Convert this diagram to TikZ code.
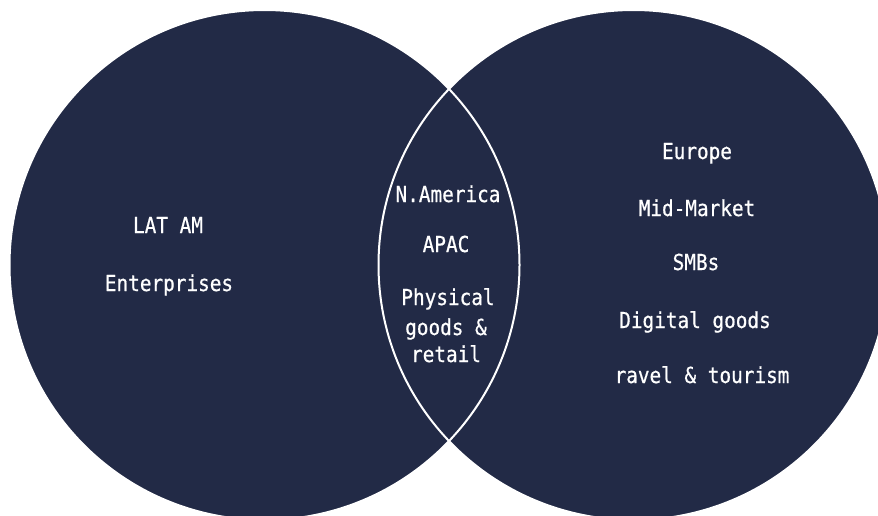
\documentclass[tikz,border=0pt]{standalone}
\usepackage{fontspec}
\setmonofont[FakeStretch=0.88,FakeBold=0.6]{DejaVu Sans Mono}
\definecolor{navy}{RGB}{34,42,70}
\begin{document}
\begin{tikzpicture}[x=1pt,y=-1pt,
  lbl/.style={text=white,font=\ttfamily\fontsize{22}{26}\selectfont,anchor=base,inner sep=0pt},
  setfill/.style={fill=navy},
  setline/.style={draw=white,line width=2pt}]
\useasboundingbox (0,0) rectangle (878,515);
\clip (0,0) rectangle (878,515);
\fill[white] (0,0) rectangle (878,515);
\path[setfill] (264.5,265) circle (255pt);
\path[setfill] (633.5,265) circle (255pt);
\path[setline] (264.5,265) circle (255pt);
\path[setline] (633.5,265) circle (255pt);
% left
\node[lbl] (latam) at (168,233) {LAT AM};
\node[lbl] (ent) at (169,291) {Enterprises};
% middle
\node[lbl] (nam) at (448,202) {N.America};
\node[lbl] (apac) at (446,252) {APAC};
\node[lbl] (phys) at (448,305) {Physical};
\node[lbl] (goods) at (446,335) {goods \&};
\node[lbl] (retail) at (446,362) {retail};
% right
\node[lbl] (eur) at (697,159) {Europe};
\node[lbl] (mid) at (697,216) {Mid-Market};
\node[lbl] (smb) at (696,270) {SMBs};
\node[lbl] (dig) at (695,328) {Digital goods};
\node[lbl] (trav) at (702,383) {ravel \& tourism};
\end{tikzpicture}
\end{document}
